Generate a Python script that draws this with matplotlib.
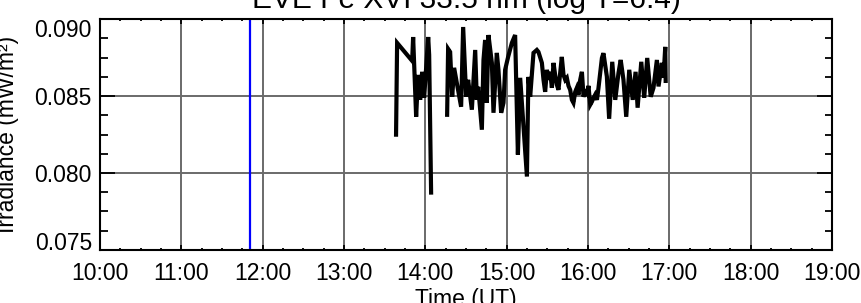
import matplotlib
matplotlib.use('Agg')
import matplotlib.pyplot as plt
from matplotlib.ticker import MultipleLocator, FixedLocator, FuncFormatter
import numpy as np

plt.rcParams['font.family'] = ['Liberation Sans', 'DejaVu Sans']

# ---- data (time in decimal hours UT, irradiance in mW/m^2) ----
time_seg1 = [13.640, 13.653, 13.838, 13.850, 13.887, 13.911, 13.936, 13.961,
             13.985, 14.010, 14.035, 14.047, 14.071]
irr_seg1 = [0.08249, 0.08845, 0.08728, 0.08883, 0.08365, 0.08637, 0.08475, 0.08657,
            0.08488, 0.08683, 0.08883, 0.08767, 0.07873]

time_seg2 = [14.268, 14.280, 14.305, 14.330, 14.354, 14.391, 14.440, 14.465,
             14.502, 14.526, 14.572, 14.613, 14.633, 14.650, 14.695, 14.715,
             14.735, 14.756, 14.776, 14.818, 14.838, 14.879, 14.899, 14.932,
             14.961, 14.981, 15.018, 15.064, 15.104, 15.138, 15.166, 15.249,
             15.267, 15.289, 15.330, 15.371, 15.391,
             15.433, 15.453, 15.473, 15.495, 15.514, 15.535, 15.556, 15.576,
             15.596, 15.617, 15.637, 15.678, 15.699, 15.720, 15.740, 15.760,
             15.781, 15.802, 15.821, 15.843, 15.863, 15.883, 15.904, 15.925,
             15.945, 15.965, 15.986, 16.006, 16.027, 16.047, 16.068, 16.088,
             16.110, 16.129, 16.171,
             16.190, 16.232, 16.260, 16.298,
             16.335, 16.375, 16.402, 16.436, 16.470, 16.507, 16.550, 16.585,
             16.610, 16.655, 16.691, 16.728, 16.771, 16.805, 16.847, 16.867,
             16.908, 16.928, 16.950, 16.955]
irr_seg2 = [0.08378, 0.08806, 0.08786, 0.08495, 0.08683, 0.08573, 0.08430, 0.08948,
            0.08495, 0.08605, 0.08411, 0.08799, 0.08475, 0.08560, 0.08281, 0.08734,
            0.08864, 0.08456, 0.08896, 0.08715, 0.08391, 0.08780, 0.08670, 0.08391,
            0.08456, 0.08670, 0.08754, 0.08845, 0.08896, 0.08119, 0.08618, 0.07977,
            0.08624, 0.08495, 0.08780, 0.08799, 0.08786,
            0.08715, 0.08605, 0.08527, 0.08670, 0.08605, 0.08657, 0.08553, 0.08715,
            0.08637, 0.08573, 0.08540, 0.08754, 0.08637, 0.08605, 0.08618, 0.08566,
            0.08540, 0.08475, 0.08456, 0.08527, 0.08553, 0.08508, 0.08605, 0.08657,
            0.08495, 0.08527, 0.08514, 0.08566, 0.08443, 0.08462, 0.08488, 0.08508,
            0.08475, 0.08553, 0.08747,
            0.08778, 0.08626, 0.08352, 0.08722,
            0.08475, 0.08650, 0.08734, 0.08605, 0.08365, 0.08670, 0.08475, 0.08657,
            0.08424, 0.08722, 0.08488, 0.08747, 0.08495, 0.08553, 0.08734, 0.08562,
            0.08715, 0.08618, 0.08819, 0.08598]

event_time = 11.845          # blue marker line
title_text = "EVE Fe XVI 33.5 nm (log T=6.4)"
xlabel_text = "Time (UT)"
ylabel_text = "Irradiance (mW/m\u00b2)"
x_range = (10.0, 19.0)
y_range = (0.075, 0.090)
x_major = [10, 11, 12, 13, 14, 15, 16, 17, 18, 19]
y_major = [0.075, 0.080, 0.085, 0.090]

# ---- figure ----
W, H = 861, 303
fig = plt.figure(figsize=(W / 100, H / 100), dpi=100)
ax = fig.add_axes([100 / W, 1 - 250 / H, (832 - 100) / W, (250 - 19) / H])

t = np.concatenate([time_seg1, [np.nan], time_seg2])
v = np.concatenate([irr_seg1, [np.nan], irr_seg2])

ax.set_xlim(*x_range)
ax.set_ylim(*y_range)

grid_col = '#6a6a6a'
for xm in x_major[1:-1]:
    ax.axvline(xm, color=grid_col, lw=1.4, zorder=1)
for ym in y_major[1:-1]:
    ax.axhline(ym, color=grid_col, lw=1.4, zorder=1)

ax.axvline(event_time, color='#0000ff', lw=1.6, zorder=2)
ax.plot(t, v, color='black', lw=3.0, zorder=3, solid_joinstyle='miter')

ax.xaxis.set_major_locator(FixedLocator(x_major))
ax.xaxis.set_minor_locator(MultipleLocator(0.25))
ax.yaxis.set_major_locator(FixedLocator(y_major))
ax.yaxis.set_minor_locator(MultipleLocator(0.00125))
ax.xaxis.set_major_formatter(FuncFormatter(lambda h, p: f"{int(round(h)):02d}:00"))
ax.yaxis.set_major_formatter(FuncFormatter(lambda y, p: f"{y:.3f}"))

fs = 16.5
ax.tick_params(axis='both', which='both', direction='in', top=True, right=True,
               color='black', width=1.3)
ax.tick_params(axis='y', which='major', length=10.8, labelsize=fs, pad=5.8)
ax.tick_params(axis='y', which='minor', length=5.4)
ax.tick_params(axis='x', which='major', length=3.3, labelsize=fs, pad=9.0)
ax.tick_params(axis='x', which='minor', length=1.7)

for sp in ax.spines.values():
    sp.set_linewidth(1.5)
    sp.set_color('black')
    sp.set_zorder(4)

fig.canvas.draw()
ylabels = ax.get_yticklabels()
ylabels[0].set_va('baseline')
ylabels[-1].set_va('top')

cx = (100 + 832) / 2 / W
fig.text(cx, 1 - 7.5 / H, title_text, ha='center', va='baseline', fontsize=21.5)
fig.text(cx, 1 - 306.4 / H, xlabel_text, ha='center', va='baseline', fontsize=fs)
fig.text(19 / W, 0.5 * ((1 - 250 / H) + (1 - 19 / H)), ylabel_text, rotation=90,
         ha='right', va='center', fontsize=fs)

fig.savefig('out.png', dpi=100)
